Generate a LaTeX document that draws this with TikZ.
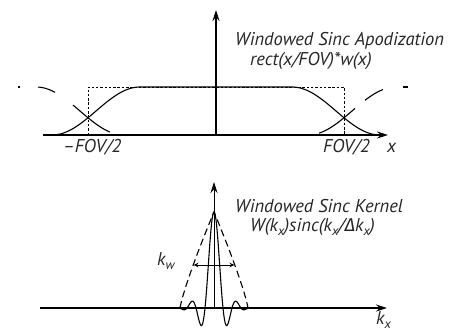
\documentclass[tikz,border=0pt]{standalone}
\usepackage{fontspec}
\setmainfont{PT Sans}
\newfontfamily\grkfont{Fira Sans}
\usetikzlibrary{arrows.meta}
\newcommand\lowsub[1]{\raisebox{-0.25em}{\fontsize{13}{13}\selectfont #1}}
\begin{document}
\begin{tikzpicture}[x=1pt,y=-1pt,
  lab/.style={font=\fontsize{18.5}{20}\selectfont\itshape, inner sep=0pt, anchor=base west, text=black!85},
  axis/.style={line width=1.1pt, -{Stealth[length=11pt,width=7pt]}},
  curve/.style={line width=1.1pt},
  rectline/.style={line width=0.6pt, dash pattern=on 2.5pt off 1.8pt},
  replica/.style={line width=1.1pt},
  basedash/.style={line width=2pt},
  window/.style={line width=1.1pt, dash pattern=on 7pt off 4pt},
  kwarrow/.style={line width=1pt, {Stealth[length=5pt,width=4.5pt]}-{Stealth[length=5pt,width=4.5pt]}}]
\useasboundingbox (0,0) rectangle (452,332);

% ---------- top panel ----------
\coordinate (xa0) at (43,135);
\coordinate (xa1) at (388,135);
\coordinate (ya0) at (216,135);
\coordinate (ya1) at (216,10);
\draw[axis] (xa0) -- (xa1);
\draw[axis] (ya0) -- (ya1);

% rect(x/FOV)
\coordinate (rl) at (88,135);
\coordinate (rr) at (344,135);
\draw[rectline] (rl) -- (88,87) -- (344,87) -- (rr);

% main apodization curve
\draw[curve] plot[domain=52:140, samples=50] (\x,{135-24*(1-cos(180*(\x-52)/88))})
  -- (292,87)
  -- plot[domain=292:380, samples=50] (\x,{135-24*(1+cos(180*(\x-292)/88))});

% replicas (shifted by FOV)
\draw[replica] (18,87) -- (20,87);
\draw[replica] plot[domain=38:55, samples=15] (\x,{135-24*(1+cos(180*(\x-36)/88))});
\draw[replica] plot[domain=73:110, samples=25] (\x,{135-24*(1+cos(180*(\x-36)/88))});
\draw[replica] plot[domain=319:355, samples=25] (\x,{135-24*(1-cos(180*(\x-308)/88))});
\draw[replica] plot[domain=365:383, samples=15] (\x,{135-24*(1-cos(180*(\x-308)/88))});
\draw[replica] (403,87) -- (408,87);
\draw[basedash] (130,135) -- (200,135);
\draw[basedash] (230,135) -- (293,135);

\node[lab] (t1) at (235,45) {Windowed Sinc Apodization};
\node[lab] (t2) at (250,65) {rect(x/FOV)*w(x)};
\node[lab] (fl) at (63,152) {\textendash FOV/2};
\node[lab] (fr) at (323,152) {FOV/2};
\node[lab] (xl) at (387,152) {x};

% ---------- bottom panel ----------
\coordinate (ka0) at (40,308);
\coordinate (ka1) at (387,308);
\coordinate (kv0) at (214,308);
\coordinate (kv1) at (214,182);
\draw[axis] (ka0) -- (ka1);
\draw[line width=0.9pt, -{Stealth[length=11pt,width=7pt]}] (kv0) -- (kv1);

% window
\draw[window] plot[domain=180:248, samples=81]
  (\x,{308-96*pow(max(0.00001,1-abs(\x-214)/34),0.85)});
% windowed sinc
\draw[curve] plot[domain=180:248, samples=140]
  (\x,{308-96*sin(180*(\x-214)/9)/(pi*(\x-214)/9)*cos(180*(\x-214)/70)});

\coordinate (kwl) at (193.5,265);
\coordinate (kwr) at (234.5,265);
\draw[kwarrow] (kwl) -- (kwr);

\node[lab] (k1) at (235,212) {Windowed Sinc Kernel};
\node[lab] (k2) at (250,231) {W(k\lowsub{x})sinc(k\lowsub{x}/{\grkfont\itshape Δ}k\lowsub{x})};
\node[lab] (kw) at (157,265) {k\lowsub{w}};
\node[lab] (kx) at (376,324) {k\lowsub{x}};
\end{tikzpicture}
\end{document}
